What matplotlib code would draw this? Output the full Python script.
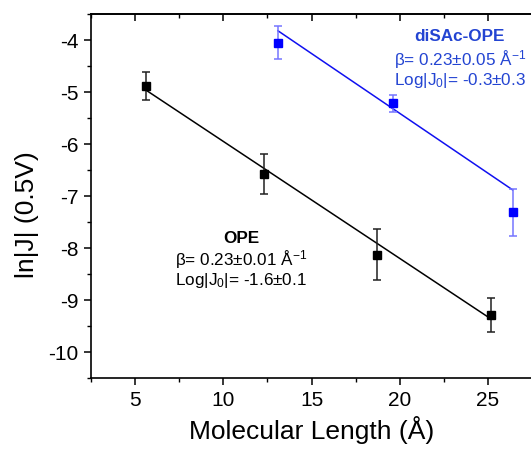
import matplotlib
matplotlib.use("Agg")
import matplotlib.pyplot as plt
import numpy as np

plt.rcParams["font.family"] = ["Liberation Sans", "DejaVu Sans"]
plt.rcParams["mathtext.fontset"] = "custom"
plt.rcParams["mathtext.rm"] = "Liberation Sans"
plt.rcParams["axes.unicode_minus"] = False

# OPE series
ope_len = [5.6, 12.3, 18.7, 25.2]
ope_lnj = [-4.88, -6.58, -8.13, -9.29]
ope_err = [0.27, 0.39, 0.49, 0.33]
ope_fit = (-0.225, -3.70)  # slope, intercept

# diSAc-OPE series
disac_len = [13.1, 19.6, 26.4]
disac_lnj = [-4.05, -5.22, -7.31]
disac_err = [0.31, 0.16, 0.45]
disac_fit = (-0.23, -0.81)

x_ticks = [5, 10, 15, 20, 25]
y_ticks = [-4, -5, -6, -7, -8, -9, -10]

fig = plt.figure(figsize=(5.31, 4.51), dpi=100)
ax = fig.add_axes([91 / 531, 73 / 451, 441 / 531, 364 / 451])

# fits
for xs, (m, b), col in [(ope_len, ope_fit, "black"), (disac_len, disac_fit, "#1010f0")]:
    xx = np.array([min(xs), max(xs)])
    ax.plot(xx, m * xx + b, color=col, lw=1.1, zorder=2)

ax.errorbar(ope_len, ope_lnj, yerr=ope_err, fmt="s", color="black", ms=5.5,
            ecolor="#202020", elinewidth=1.1, capsize=3, capthick=1.1, zorder=3)
ax.errorbar(disac_len, disac_lnj, yerr=disac_err, fmt="s", color="#0000ff", ms=5.5,
            ecolor="#7575ff", elinewidth=1.1, capsize=3, capthick=1.1, zorder=3)

ax.set_xlim(2.5, 27.5)
ax.set_ylim(-10.5, -3.5)
ax.set_xticks(x_ticks)
ax.set_yticks(y_ticks)
ax.set_xticks(np.arange(2.5, 27.6, 2.5), minor=True)
ax.set_yticks(np.arange(-10.5, -3.4, 0.5), minor=True)

ax.spines["right"].set_visible(False)
for s in ["left", "bottom", "top"]:
    ax.spines[s].set_linewidth(1.2)
ax.tick_params(which="major", direction="out", length=5, width=1.1, labelsize=15, pad=4)
ax.tick_params(which="minor", direction="out", length=3, width=1.0)
ax.tick_params(axis="x", which="both", top=False)

# top ticks pointing inward
ax_top = ax.secondary_xaxis("top")
ax_top.set_xticks(x_ticks)
ax_top.set_xticks(np.arange(2.5, 27.6, 2.5), minor=True)
ax_top.tick_params(which="major", direction="in", length=5, width=1.1, labeltop=False)
ax_top.tick_params(which="minor", direction="in", length=3, width=1.0)
ax_top.spines["top"].set_linewidth(1.2)

ax.set_xlabel("Molecular Length (Å)", fontsize=19, labelpad=5)
fig.text(27 / 531, 1 - 215 / 451, "ln|J| (0.5V)", fontsize=19, rotation=90,
         ha="center", va="center")

fs = 12.3
ax.text(11.0, -7.81, "OPE", fontsize=fs, fontweight="bold", ha="center", va="center")
ax.text(11.0, -8.23, r"β= 0.23±0.01 Å$\mathregular{^{-1}}$", fontsize=fs, ha="center", va="center")
ax.text(11.0, -8.62, r"Log|J$\mathregular{_0}$|= -1.6±0.1", fontsize=fs, ha="center", va="center")

bc = "#2344d2"
ax.text(23.4, -3.94, "diSAc-OPE", fontsize=fs, fontweight="bold", ha="center", va="center", color=bc)
ax.text(23.4, -4.37, r"β= 0.23±0.05 Å$\mathregular{^{-1}}$", fontsize=fs, ha="center", va="center", color=bc)
ax.text(23.4, -4.77, r"Log|J$\mathregular{_0}$|= -0.3±0.3", fontsize=fs, ha="center", va="center", color=bc)

fig.savefig("out.png", dpi=100)
